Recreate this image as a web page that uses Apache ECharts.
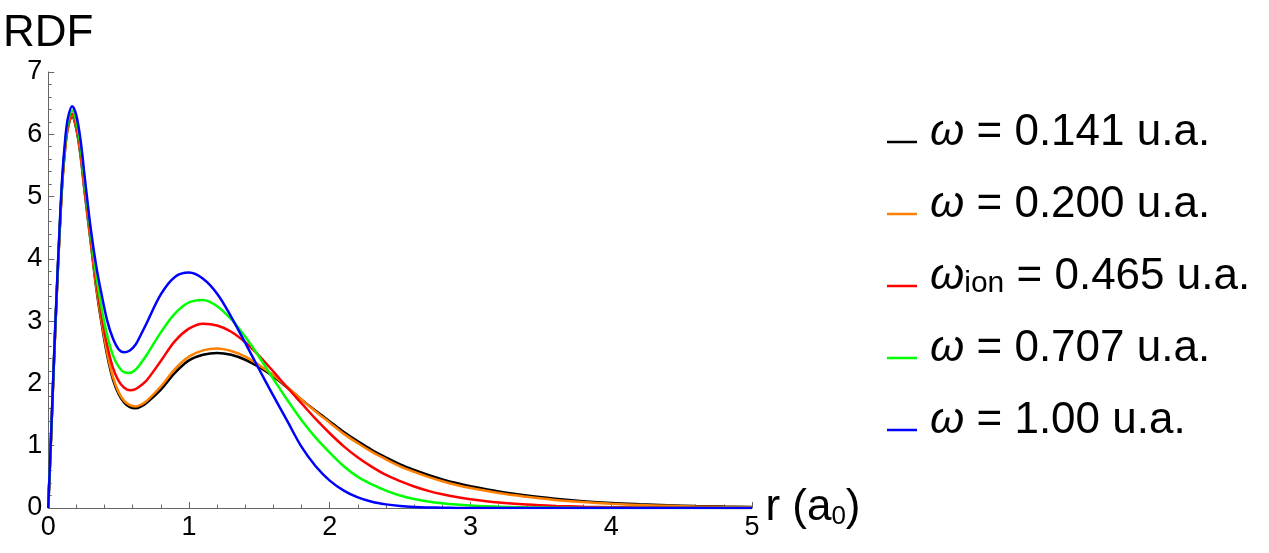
<!DOCTYPE html>
<html>
<head>
<meta charset="utf-8">
<title>RDF</title>
<script src="https://cdn.jsdelivr.net/npm/echarts@6.0.0/dist/echarts.min.js"></script>
<style>
  html, body { margin: 0; padding: 0; background: #fff; }
  #main { width: 1269px; height: 553px; }
</style>
</head>
<body>
<div id="main"></div>
<script>
// r in units of a0 (shared grid for every curve)
var r = [0, 0.02, 0.04, 0.06, 0.08, 0.1, 0.12, 0.14, 0.17, 0.2, 0.23, 0.26, 0.3, 0.34, 0.38, 0.42, 0.46, 0.5,
  0.54, 0.58, 0.62, 0.66, 0.7,
  0.8, 0.9, 1.0, 1.1, 1.2, 1.3, 1.4, 1.5, 1.6, 1.7, 1.8, 1.9, 2.0, 2.1, 2.2, 2.3, 2.4, 2.5, 2.6, 2.7, 2.8, 2.9, 3.0,
  3.2, 3.4, 3.6, 3.8, 4.0, 4.2, 4.4, 4.6, 4.8, 5.0];

// RDF values
var rdf0141 = [0, 1.12, 2.3, 3.4, 4.38, 5.22, 5.76, 6.1, 6.28, 6.08, 5.65, 5.05, 4.3, 3.55, 2.95, 2.44, 2.06, 1.83,
  1.69, 1.62, 1.6, 1.63, 1.69,
  1.9, 2.17, 2.37, 2.46, 2.49, 2.46, 2.38, 2.26, 2.11, 1.93, 1.74, 1.56, 1.39, 1.22, 1.07, 0.93, 0.81, 0.7, 0.61, 0.53, 0.46, 0.4, 0.35,
  0.265, 0.2, 0.15, 0.11, 0.08, 0.06, 0.044, 0.032, 0.023, 0.016];
var rdf0200 = [0, 1.12, 2.3, 3.4, 4.38, 5.22, 5.77, 6.11, 6.3, 6.1, 5.67, 5.07, 4.32, 3.58, 2.99, 2.48, 2.1, 1.86,
  1.72, 1.65, 1.63, 1.66, 1.72,
  1.95, 2.23, 2.43, 2.53, 2.56, 2.52, 2.43, 2.29, 2.13, 1.94, 1.74, 1.55, 1.37, 1.19, 1.04, 0.9, 0.78, 0.67, 0.58, 0.5, 0.43, 0.37, 0.32,
  0.24, 0.18, 0.13, 0.095, 0.068, 0.049, 0.035, 0.025, 0.018, 0.012];
var rdf0465 = [0, 1.13, 2.31, 3.41, 4.4, 5.25, 5.8, 6.14, 6.33, 6.14, 5.72, 5.12, 4.38, 3.65, 3.07, 2.6, 2.25, 2.04,
  1.93, 1.89, 1.91, 1.97, 2.05,
  2.36, 2.68, 2.88, 2.96, 2.93, 2.83, 2.66, 2.44, 2.19, 1.93, 1.68, 1.43, 1.2, 0.99, 0.81, 0.66, 0.53, 0.43, 0.345, 0.275, 0.22, 0.175, 0.14,
  0.088, 0.055, 0.034, 0.021, 0.013, 0.008, 0.005, 0.003, 0.002, 0.001];
var rdf0707 = [0, 1.14, 2.33, 3.43, 4.42, 5.28, 5.84, 6.19, 6.38, 6.2, 5.8, 5.2, 4.45, 3.75, 3.2, 2.76, 2.45, 2.27,
  2.18, 2.17, 2.22, 2.33, 2.46,
  2.82, 3.12, 3.3, 3.34, 3.24, 3.03, 2.75, 2.42, 2.07, 1.73, 1.41, 1.13, 0.89, 0.67, 0.5, 0.38, 0.28, 0.2, 0.145, 0.105, 0.076, 0.055, 0.04,
  0.02, 0.01, 0.005, 0.002, 0.001, 0, 0, 0, 0, 0];
var rdf1000 = [0, 1.15, 2.35, 3.46, 4.46, 5.33, 5.9, 6.26, 6.45, 6.3, 5.9, 5.3, 4.52, 3.9, 3.42, 3.0, 2.72, 2.55,
  2.5, 2.53, 2.62, 2.79, 2.97,
  3.43, 3.71, 3.78, 3.68, 3.44, 3.07, 2.65, 2.22, 1.8, 1.39, 0.98, 0.67, 0.44, 0.28, 0.17, 0.1, 0.058, 0.032, 0.017, 0.009, 0.004, 0.002, 0.001,
  0, 0, 0, 0, 0, 0, 0, 0, 0, 0];

var seriesNames = ['ω = 0.141 u.a.', 'ω = 0.200 u.a.', 'ωion = 0.465 u.a.', 'ω = 0.707 u.a.', 'ω = 1.00 u.a.'];
var legendLabels = ['{w|ω} = 0.141 u.a.', '{w|ω} = 0.200 u.a.', '{w|ω}{s|ion} = 0.465 u.a.', '{w|ω} = 0.707 u.a.', '{w|ω} = 1.00 u.a.'];
var seriesColors = ['#000000', '#ff8000', '#ff0000', '#00ff00', '#0000ff'];
var seriesData = [rdf0141, rdf0200, rdf0465, rdf0707, rdf1000];

var FONT = '"Liberation Sans", Arial, sans-serif';

function pairs(ys) {
  return r.map(function (x, i) { return [x, ys[i]]; });
}

var series = seriesNames.map(function (name, i) {
  return {
    name: name,
    type: 'line',
    data: pairs(seriesData[i]),
    showSymbol: false,
    smooth: 0.35,
    lineStyle: { color: seriesColors[i], width: 2.5 },
    itemStyle: { color: seriesColors[i] }
  };
});

var axisGray = '#666';

var option = {
  backgroundColor: '#fff',
  animation: false,
  grid: { left: 47, right: 517, top: 72, bottom: 45 },
  legend: {
    orient: 'vertical',
    left: 887,
    top: 111,
    padding: 0,
    itemGap: 10,
    itemWidth: 30,
    itemHeight: 2.5,
    icon: 'rect',
    selectedMode: false,
    data: seriesNames,
    formatter: function (name) {
      return legendLabels[seriesNames.indexOf(name)];
    },
    textStyle: {
      fontFamily: FONT,
      fontSize: 44,
      lineHeight: 44,
      color: '#000',
      padding: [0, 0, 18, 0],
      rich: {
        w: { fontFamily: FONT, fontSize: 44, lineHeight: 44, fontStyle: 'italic', color: '#000', padding: [0, 0, 0, 8] },
        s: { fontFamily: FONT, fontSize: 30, lineHeight: 20, verticalAlign: 'bottom', color: '#000' }
      }
    }
  },
  xAxis: {
    type: 'value',
    min: 0,
    max: 5,
    interval: 1,
    name: 'r (a{sub|0})',
    nameLocation: 'end',
    nameGap: 13,
    nameTextStyle: {
      fontFamily: FONT,
      fontSize: 44,
      lineHeight: 44,
      color: '#000',
      rich: {
        sub: { fontFamily: FONT, fontSize: 26, lineHeight: 20, verticalAlign: 'bottom', color: '#000' }
      }
    },
    axisLine: { show: true, onZero: false, lineStyle: { color: axisGray, width: 1 } },
    axisTick: { show: true, inside: true, length: 6, lineStyle: { color: axisGray } },
    minorTick: { show: true, splitNumber: 5, length: 3.5, lineStyle: { color: axisGray } },
    splitLine: { show: false },
    axisLabel: { fontFamily: FONT, fontSize: 27, color: '#000', margin: 6 }
  },
  yAxis: {
    type: 'value',
    min: 0,
    max: 7,
    interval: 1,
    name: 'RDF',
    nameLocation: 'end',
    nameGap: 38,
    nameTextStyle: { fontFamily: FONT, fontSize: 44, color: '#000', align: 'center', verticalAlign: 'middle' },
    axisLine: { show: true, onZero: false, lineStyle: { color: axisGray, width: 1 } },
    axisTick: { show: true, inside: true, length: 6, lineStyle: { color: axisGray } },
    minorTick: { show: true, splitNumber: 5, length: 3.5, lineStyle: { color: axisGray } },
    splitLine: { show: false },
    axisLabel: { fontFamily: FONT, fontSize: 27, color: '#000', margin: 6 }
  },
  series: series
};

var myChart = echarts.init(document.getElementById('main'));
myChart.setOption(option);
</script>
</body>
</html>
